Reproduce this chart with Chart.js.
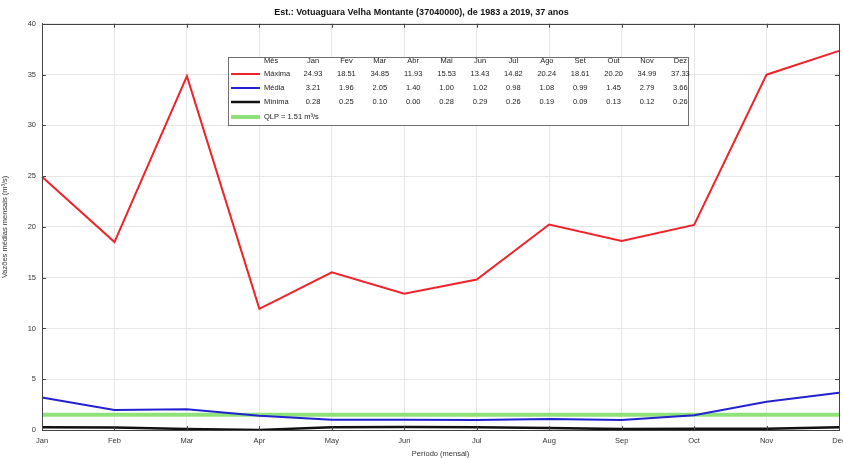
<!DOCTYPE html>
<html>
<head>
<meta charset="utf-8">
<script src="https://cdn.jsdelivr.net/npm/chart.js@4"></script>
<style>
  html, body { margin: 0; padding: 0; background: #fff; }
  canvas { display: block; }
</style>
</head>
<body>
<canvas id="grafico" width="843" height="458"></canvas>
<script>
// --- DADOS ---
const meses = ['Jan', 'Feb', 'Mar', 'Apr', 'May', 'Jun', 'Jul', 'Aug', 'Sep', 'Oct', 'Nov', 'Dec'];
const mesesTabela = ['Jan', 'Fev', 'Mar', 'Abr', 'Mai', 'Jun', 'Jul', 'Ago', 'Set', 'Out', 'Nov', 'Dez'];
const vazaoMaxima = [24.93, 18.51, 34.85, 11.93, 15.53, 13.43, 14.82, 20.24, 18.61, 20.20, 34.99, 37.33];
const vazaoMedia  = [3.21, 1.96, 2.05, 1.40, 1.00, 1.02, 0.98, 1.08, 0.99, 1.45, 2.79, 3.66];
const vazaoMinima = [0.28, 0.25, 0.10, 0.00, 0.28, 0.29, 0.26, 0.19, 0.09, 0.13, 0.12, 0.26];
const vazaoQlp    = [1.51, 1.51, 1.51, 1.51, 1.51, 1.51, 1.51, 1.51, 1.51, 1.51, 1.51, 1.51];
const ticksY = [0, 5, 10, 15, 20, 25, 30, 35, 40];

const fonte = '"Liberation Sans", Arial, sans-serif';

// Moldura completa do eixo (estilo MATLAB) com ticks para dentro
const moldura = {
    id: 'moldura',
    afterDatasetsDraw(chart) {
        const { ctx, chartArea: a, scales } = chart;
        ctx.save();
        ctx.strokeStyle = '#444';
        ctx.lineWidth = 1;
        ctx.strokeRect(Math.round(a.left) + 0.5, Math.round(a.top) + 0.5, Math.round(a.right - a.left), Math.round(a.bottom - a.top));
        ctx.beginPath();
        scales.x.ticks.forEach((t, i) => {
            const x = Math.round(scales.x.getPixelForTick(i)) + 0.5;
            ctx.moveTo(x, a.bottom); ctx.lineTo(x, a.bottom - 4);
            ctx.moveTo(x, a.top); ctx.lineTo(x, a.top + 4);
        });
        scales.y.ticks.forEach((t, i) => {
            const y = Math.round(scales.y.getPixelForTick(i)) + 0.5;
            ctx.moveTo(a.left, y); ctx.lineTo(a.left + 4, y);
            ctx.moveTo(a.right, y); ctx.lineTo(a.right - 4, y);
        });
        ctx.stroke();
        ctx.restore();
    }
};

// Tabela-legenda desenhada dentro da área do gráfico
const tabelaLegenda = {
    id: 'tabelaLegenda',
    afterDraw(chart) {
        const ctx = chart.ctx;
        const x0 = 228, y0 = 57, x1 = 688, y1 = 125;
        ctx.save();
        ctx.fillStyle = '#fff';
        ctx.fillRect(x0, y0, x1 - x0, y1 - y0);
        ctx.strokeStyle = '#6f6f6f';
        ctx.lineWidth = 1;
        ctx.strokeRect(x0 + 0.5, y0 + 0.5, x1 - x0, y1 - y0);

        const linhas = [
            { nome: 'Máxima', ds: 0, vals: vazaoMaxima },
            { nome: 'Média', ds: 1, vals: vazaoMedia },
            { nome: 'Mínima', ds: 2, vals: vazaoMinima },
            { nome: 'QLP = 1.51 m³/s', ds: 3, vals: null }
        ];
        const ys = [74, 88, 102, 117];
        const colX = 313, passo = 33.4;

        ctx.font = '7.5px ' + fonte;
        ctx.fillStyle = '#222';
        ctx.textBaseline = 'middle';
        ctx.textAlign = 'left';
        ctx.fillText('Mês', 264, 61);
        ctx.textAlign = 'center';
        mesesTabela.forEach((m, i) => ctx.fillText(m, colX + i * passo, 61));

        linhas.forEach((l, k) => {
            const ds = chart.data.datasets[l.ds];
            ctx.strokeStyle = ds.borderColor;
            ctx.lineWidth = ds.borderWidth;
            ctx.beginPath();
            ctx.moveTo(231, ys[k]);
            ctx.lineTo(260, ys[k]);
            ctx.stroke();
            ctx.fillStyle = '#222';
            ctx.textAlign = 'left';
            ctx.fillText(l.nome, 264, ys[k]);
            if (l.vals) {
                ctx.textAlign = 'center';
                l.vals.forEach((v, i) => ctx.fillText(v.toFixed(2), colX + i * passo, ys[k]));
            }
        });
        ctx.restore();
    }
};

new Chart(document.getElementById('grafico'), {
    type: 'line',
    data: {
        labels: meses,
        datasets: [
            { label: 'Máxima', data: vazaoMaxima, borderColor: '#f0222a', borderWidth: 2, pointRadius: 0, tension: 0 },
            { label: 'Média', data: vazaoMedia, borderColor: '#2222d0', borderWidth: 2, pointRadius: 0, tension: 0 },
            { label: 'Mínima', data: vazaoMinima, borderColor: '#111111', borderWidth: 2.5, pointRadius: 0, tension: 0 },
            { label: 'QLP', data: vazaoQlp, borderColor: '#8fe27a', borderWidth: 4, pointRadius: 0, tension: 0 }
        ]
    },
    options: {
        responsive: false,
        animation: false,
        layout: { padding: { left: 0, right: 0, top: 0, bottom: 0 } },
        plugins: {
            legend: { display: false },
            tooltip: { enabled: false },
            title: {
                display: true,
                text: 'Est.: Votuaguara Velha Montante (37040000), de 1983 a 2019, 37 anos',
                color: '#111',
                font: { family: fonte, size: 9, weight: 'bold' },
                padding: { top: 7, bottom: 6 }
            }
        },
        scales: {
            x: {
                offset: false,
                grid: { color: '#e6e6e6', drawTicks: false },
                border: { color: '#444' },
                ticks: { color: '#333', font: { family: fonte, size: 7.5 }, maxRotation: 0, autoSkip: false, padding: 6 },
                title: { display: true, text: 'Período (mensal)', color: '#333', font: { family: fonte, size: 7.5 }, padding: { top: 0, bottom: 0 } },
                afterFit(scale) { scale.height = 28; scale.paddingRight = 4; scale.paddingLeft = 0; }
            },
            y: {
                min: 0,
                max: 40,
                afterBuildTicks(scale) { scale.ticks = ticksY.map(v => ({ value: v })); },
                grid: { color: '#e6e6e6', drawTicks: false },
                border: { color: '#444' },
                ticks: { color: '#333', font: { family: fonte, size: 7.5 }, padding: 6 },
                title: { display: true, text: 'Vazões médias mensais (m³/s)', color: '#333', font: { family: fonte, size: 7.5 }, padding: { top: 0, bottom: 4 } },
                afterFit(scale) { scale.width = 42; }
            }
        }
    },
    plugins: [moldura, tabelaLegenda]
});
</script>
</body>
</html>
